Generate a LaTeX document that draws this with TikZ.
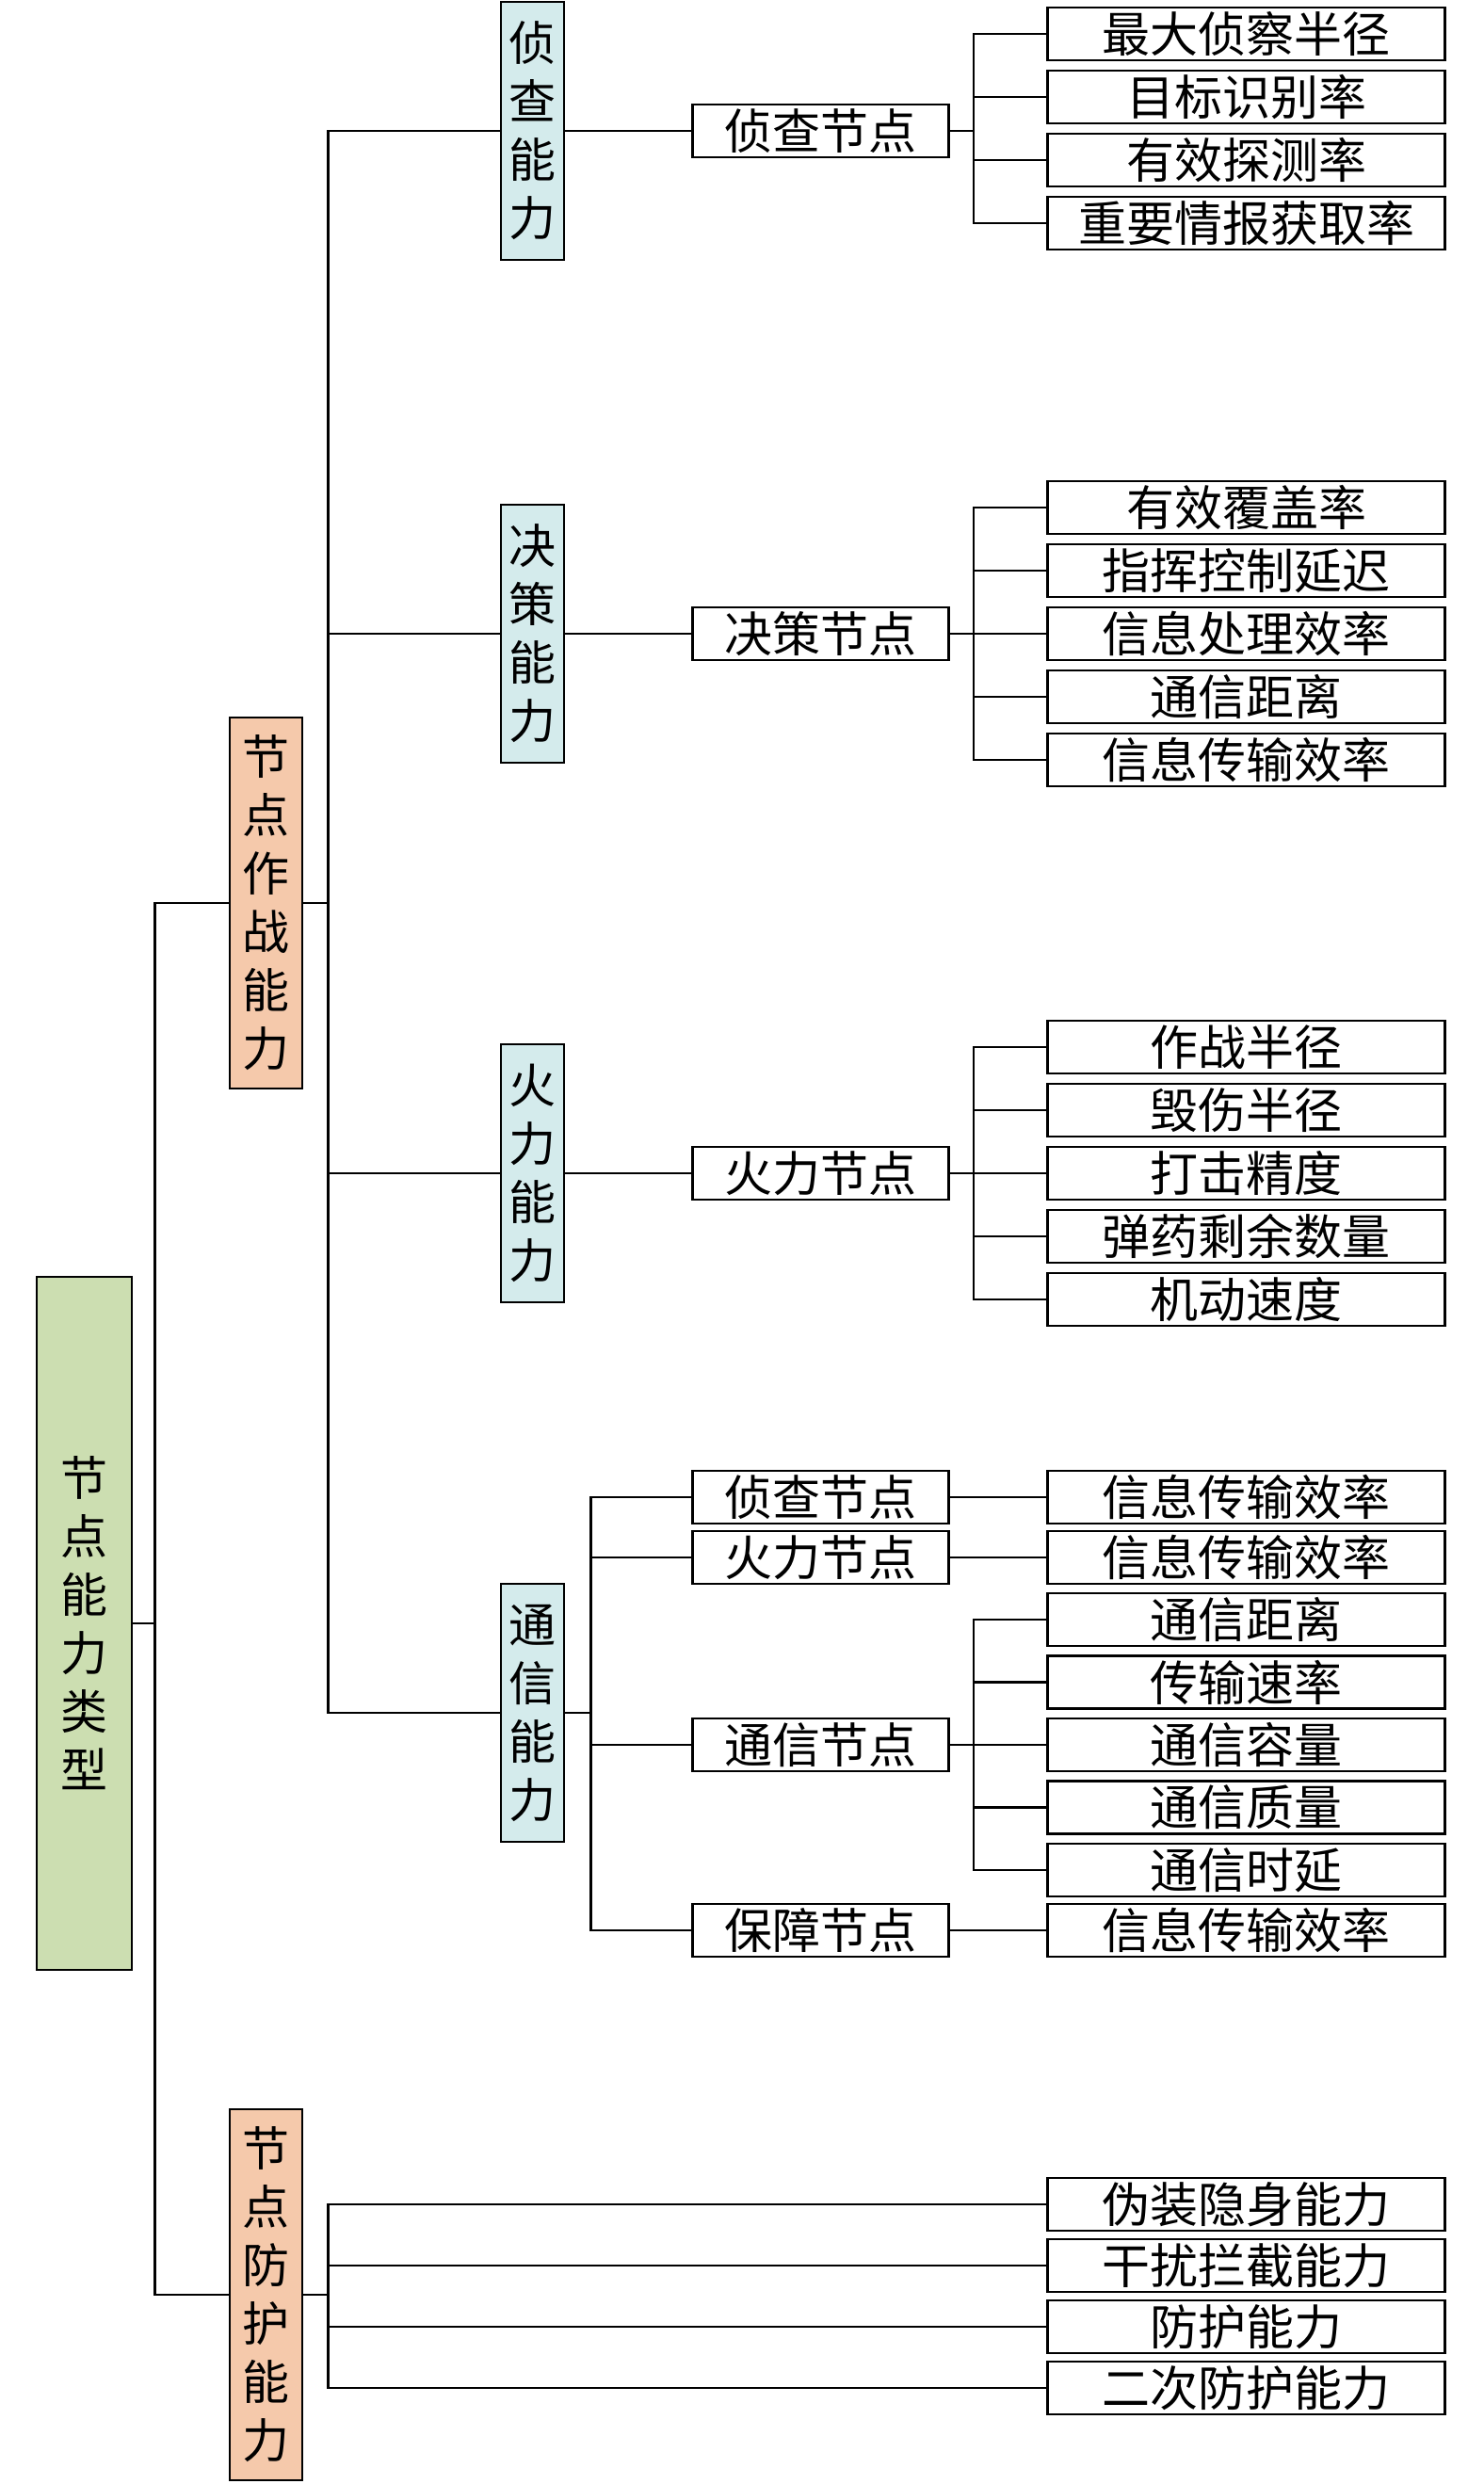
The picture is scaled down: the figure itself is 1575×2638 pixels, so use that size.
\documentclass[tikz,border=0pt]{standalone}
\usepackage{fontspec}
\setmainfont{Noto Sans CJK SC}
\usepackage{xcolor}
\definecolor{rootgreen}{RGB}{204,222,177}
\definecolor{catorange}{RGB}{245,201,171}
\definecolor{abilblue}{RGB}{212,235,236}

\begin{document}
\begin{tikzpicture}[x=0.5pt,y=-0.5pt,line width=1.4pt,
  leaf/.style={draw,minimum width=211pt,minimum height=28pt,inner sep=0pt,font=\fontsize{25.5}{25.5}\selectfont},
  mid/.style={draw,minimum width=136pt,minimum height=28pt,inner sep=0pt,font=\fontsize{25.5}{25.5}\selectfont},
  vbox/.style={draw,fill=#1,inner sep=0pt,align=center,font=\fontsize{25}{31}\selectfont},
  abil/.style={vbox=abilblue,minimum width=33.5pt,minimum height=137pt},
  cat/.style={vbox=catorange,minimum width=38.5pt,minimum height=197pt}]
  \useasboundingbox (0,0) rectangle (1575,2638);
  % root and categories
  \node[vbox=rootgreen,minimum width=50.5pt,minimum height=368pt] (root) at (89.5,1724) {节\\点\\能\\力\\类\\型};
  \node[cat] (zz) at (282.5,959) {节\\点\\作\\战\\能\\力};
  \node[cat] (fh) at (282.5,2437) {节\\点\\防\\护\\能\\力};
  \draw (root.east) -- ++(23,0) |- (zz.west);
  \draw (root.east) -- ++(23,0) |- (fh.west);

  % abilities
  \node[abil] (zcnl) at (565.5,139) {侦\\查\\能\\力};
  \node[abil] (jcnl) at (565.5,673) {决\\策\\能\\力};
  \node[abil] (hlnl) at (565.5,1246) {火\\力\\能\\力};
  \node[abil] (txnl) at (565.5,1819) {通\\信\\能\\力};
  \foreach \n in {zcnl,jcnl,hlnl,txnl}
    \draw (zz.east) -- ++(26,0) |- (\n.west);

  % nodes
  \node[mid] (zcjd) at (871.5,139) {侦查节点};
  \node[mid] (jcjd) at (871.5,673) {决策节点};
  \node[mid] (hljd) at (871.5,1246) {火力节点};
  \draw (zcnl) -- (zcjd);
  \draw (jcnl) -- (jcjd);
  \draw (hlnl) -- (hljd);
  \node[mid] (tx1) at (871.5,1590) {侦查节点};
  \node[mid] (tx2) at (871.5,1654) {火力节点};
  \node[mid] (tx3) at (871.5,1853) {通信节点};
  \node[mid] (tx4) at (871.5,2050) {保障节点};
  \foreach \n in {tx1,tx2,tx3,tx4}
    \draw (txnl.east) -- ++(27,0) |- (\n.west);

  % indicators
  \foreach \t [count=\i] in {最大侦察半径,目标识别率,有效探测率,重要情报获取率} {
    \node[leaf] (zc\i) at (1323.5,{36+67*(\i-1)}) {\t};
    \draw (zcjd.east) -- ++(25,0) |- (zc\i.west);
  }
  \foreach \t [count=\i] in {有效覆盖率,指挥控制延迟,信息处理效率,通信距离,信息传输效率} {
    \node[leaf] (jc\i) at (1323.5,{539+67*(\i-1)}) {\t};
    \draw (jcjd.east) -- ++(25,0) |- (jc\i.west);
  }
  \foreach \t [count=\i] in {作战半径,毁伤半径,打击精度,弹药剩余数量,机动速度} {
    \node[leaf] (hl\i) at (1323.5,{1112+67*(\i-1)}) {\t};
    \draw (hljd.east) -- ++(25,0) |- (hl\i.west);
  }
  \node[leaf] (txa) at (1323.5,1590) {信息传输效率};
  \node[leaf] (txb) at (1323.5,1654) {信息传输效率};
  \node[leaf] (txc) at (1323.5,2050) {信息传输效率};
  \draw (tx1) -- (txa);
  \draw (tx2) -- (txb);
  \draw (tx4) -- (txc);
  \foreach \t [count=\i] in {通信距离,传输速率,通信容量,通信质量,通信时延} {
    \node[leaf] (tx3\i) at (1323.5,{1720+66.5*(\i-1)}) {\t};
    \draw (tx3.east) -- ++(25,0) |- (tx3\i.west);
  }
  \foreach \t [count=\i] in {伪装隐身能力,干扰拦截能力,防护能力,二次防护能力} {
    \node[leaf] (fh\i) at (1323.5,{2341+65*(\i-1)}) {\t};
    \draw (fh.east) -- ++(26,0) |- (fh\i.west);
  }
\end{tikzpicture}
\end{document}
